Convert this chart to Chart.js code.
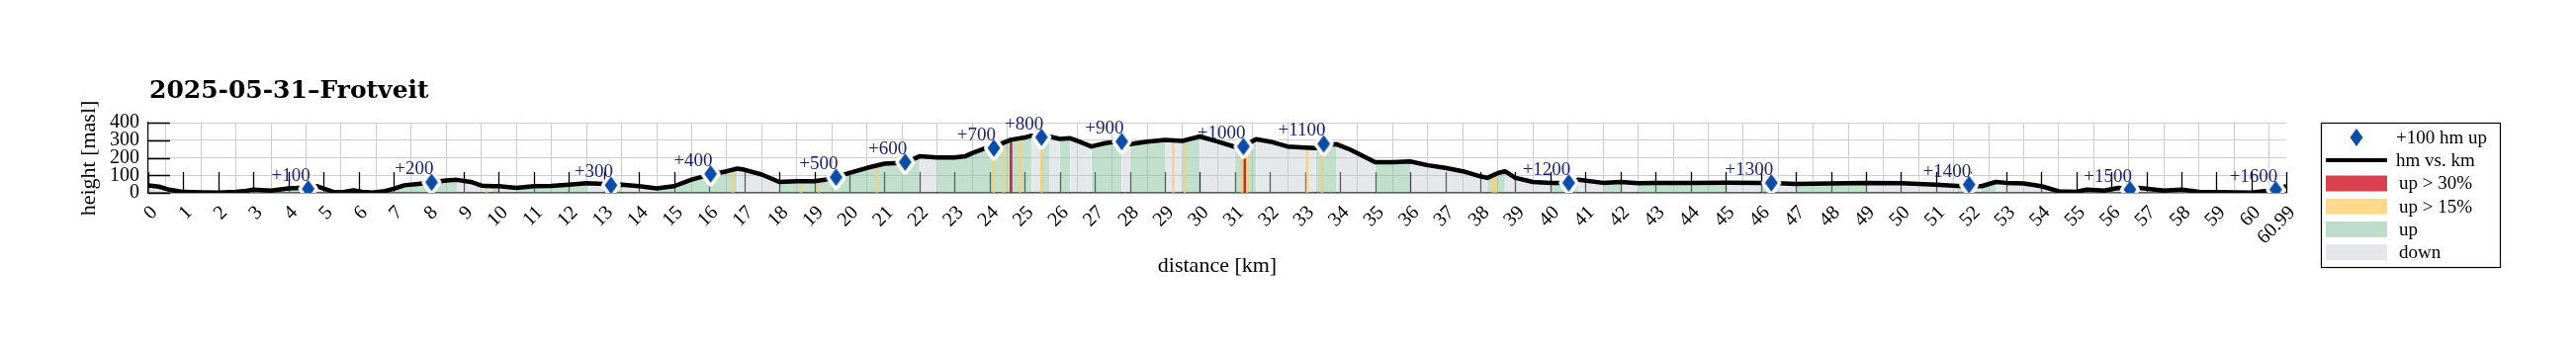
<!DOCTYPE html>
<html>
<head>
<meta charset="utf-8">
<script src="https://cdn.jsdelivr.net/npm/chart.js@4.4.1/dist/chart.umd.min.js"></script>
<style>
  body { margin: 0; background: #fff; }
</style>
</head>
<body>
<canvas id="elevationChart" width="2605" height="360"></canvas>
<script>
// Elevation profile (km, m a.s.l.)
const distanceKm = [0, 0.3, 0.6, 1.0, 1.5, 2.0, 2.5, 2.8, 3.0, 3.5, 4.0, 4.3, 4.56, 4.8, 5.0, 5.3, 5.6, 5.85, 6.1, 6.4,
    6.7, 7.0, 7.3, 7.7, 8.08, 8.5, 8.8, 9.2, 9.5, 9.8, 10.0, 10.5, 11.0, 11.5, 12.0, 12.5, 13.0, 13.2, 13.5, 14.0,
    14.5, 15.0, 15.5, 16.04, 16.5, 16.8, 17.0, 17.5, 18.0, 18.5, 19.0, 19.3, 19.62, 20.0, 20.5, 21.0, 21.59, 22.0, 22.5, 23.0,
    23.3, 23.5, 23.9, 24.12, 24.3, 24.6, 25.0, 25.2, 25.48, 25.7, 26.0, 26.3, 26.5, 26.9, 27.3, 27.77, 28.0, 28.5, 29.0, 29.5,
    30.0, 30.5, 31.0, 31.24, 31.6, 32.0, 32.5, 33.0, 33.3, 33.53, 33.9, 34.3, 35.0, 35.5, 36.0, 36.5, 37.0, 37.5, 38.0, 38.2,
    38.5, 38.7, 39.0, 39.5, 40.0, 40.52, 40.8, 41.5, 42.0, 42.5, 43.0, 44.0, 45.0, 46.0, 46.3, 47.0, 48.0, 49.0, 50.0, 51.0,
    51.6, 51.94, 52.3, 52.7, 53.0, 53.5, 54.0, 54.5, 55.0, 55.3, 55.8, 56.2, 56.53, 56.8, 57.5, 58.0, 58.5, 59.0, 60.0, 60.5,
    60.69, 60.99];
const heightM = [43, 35, 18, 5, 3, 2, 6, 12, 19, 13, 25, 28, 23, 38, 25, 4, 6, 14, 6, 1,
    8, 23, 43, 51, 60, 70, 74, 62, 41, 38, 38, 28, 38, 40, 47, 55, 51, 45, 47, 38,
    25, 38, 75, 105, 123, 138, 132, 104, 62, 66, 66, 75, 89, 113, 142, 166, 172, 208, 202, 202,
    208, 226, 255, 262, 277, 302, 315, 326, 320, 321, 307, 311, 296, 264, 283, 295, 277, 292, 302, 296,
    321, 292, 262, 265, 306, 292, 264, 258, 255, 270, 277, 245, 175, 175, 179, 157, 142, 123, 94, 85,
    113, 123, 85, 62, 57, 57, 75, 57, 62, 55, 57, 57, 58, 57, 57, 51, 53, 57, 55, 47,
    40, 40, 38, 62, 57, 53, 38, 9, 6, 19, 13, 28, 22, 28, 13, 19, 6, 4, 2, 13,
    19, 38];

// +100 hm markers
const milestoneKm = [4.56, 8.08, 13.2, 16.04, 19.62, 21.59, 24.12, 25.48, 27.77, 31.24, 33.53, 40.52, 46.3, 51.94, 56.53, 60.69];
const milestoneHeight = [23, 60, 43, 108, 89, 175, 255, 317, 292, 264, 279, 57, 57, 47, 19, 19];
const milestoneLabels = ["+100", "+200", "+300", "+400", "+500", "+600", "+700", "+800", "+900", "+1000",
    "+1100", "+1200", "+1300", "+1400", "+1500", "+1600"];

// steep climbing spots: km, height, grade class
const steepKm = [9.65, 16.67, 18.62, 19.13, 20.78, 24.12, 24.4, 24.61, 24.87, 25.48, 29.24, 29.57, 31.2, 31.28, 31.35, 33.06, 33.48, 38.36, 38.44];
const steepHeight = [40, 135, 66, 68, 155, 258, 285, 302, 312, 318, 298, 297, 262, 268, 275, 257, 262, 100, 108];
const steepClass = [15, 15, 15, 15, 15, 15, 15, 30, 15, 15, 15, 15, 15, 30, 15, 15, 15, 15, 15];

const xTickValues = Array.from({ length: 61 }, (_, i) => i).concat([60.99]);

const upFill = "rgba(143,196,164,0.55)";
const downFill = "rgba(198,203,211,0.45)";
const steep15 = "rgba(252,206,105,0.75)";
const steep30 = "rgba(196,24,44,0.9)";
const markerBlue = "#0b4ca8";
const labelNavy = "#1c2470";
const serif = '"Liberation Serif", "DejaVu Serif", serif';

const profile = distanceKm.map((d, i) => ({ x: d, y: heightM[i] }));
const milestones = milestoneKm.map((d, i) => ({ x: d, y: milestoneHeight[i] }));
const steep = steepKm.map((d, i) => ({ x: d, y: steepHeight[i] }));

function diamondImage(halo) {
    const c = document.createElement("canvas");
    c.width = 26; c.height = 34;
    const g = c.getContext("2d");
    g.beginPath();
    g.moveTo(13, 8); g.lineTo(19.5, 17); g.lineTo(13, 26); g.lineTo(6.5, 17); g.closePath();
    if (halo) {
        g.lineJoin = "round";
        g.strokeStyle = "#fff";
        g.lineWidth = 7;
        g.stroke();
    }
    g.fillStyle = markerBlue;
    g.fill();
    return c;
}
const diamond = diamondImage(true);
const legendDiamond = diamondImage(false);

// inward ticks like the original plot
const innerTicks = {
    id: "innerTicks",
    beforeDatasetsDraw(chart) {
        const { ctx, chartArea: a, scales: { x, y } } = chart;
        ctx.save();
        ctx.strokeStyle = "#000";
        ctx.lineWidth = 1.3;
        ctx.beginPath();
        x.ticks.forEach(t => {
            const px = Math.round(x.getPixelForValue(t.value)) + 0.5;
            ctx.moveTo(px, a.bottom);
            ctx.lineTo(px, a.bottom - 21);
        });
        y.ticks.forEach(t => {
            const py = Math.round(y.getPixelForValue(t.value)) + 0.5;
            ctx.moveTo(a.left, py);
            ctx.lineTo(a.left + 22, py);
        });
        ctx.stroke();
        ctx.restore();
    }
};

const milestoneText = {
    id: "milestoneText",
    afterDatasetsDraw(chart) {
        const ctx = chart.ctx;
        const meta = chart.getDatasetMeta(3);
        ctx.save();
        ctx.font = "19px " + serif;
        ctx.fillStyle = labelNavy;
        ctx.textAlign = "right";
        ctx.textBaseline = "alphabetic";
        meta.data.forEach((pt, i) => {
            ctx.fillText(milestoneLabels[i], pt.x + 2, pt.y - 8);
        });
        ctx.restore();
    }
};

// rotated km labels, placed like the original
const xLabels = {
    id: "xLabels",
    afterDraw(chart) {
        const { ctx, chartArea: a, scales: { x } } = chart;
        ctx.save();
        ctx.font = "20px " + serif;
        ctx.fillStyle = "#000";
        ctx.textAlign = "right";
        ctx.textBaseline = "middle";
        x.ticks.forEach(t => {
            const px = x.getPixelForValue(t.value);
            ctx.save();
            ctx.translate(px + 6, a.bottom + 17);
            ctx.rotate(-Math.PI / 4);
            ctx.fillText(String(t.value), 0, 0);
            ctx.restore();
        });
        ctx.restore();
    }
};

const titlesAndLegend = {
    id: "titlesAndLegend",
    afterDraw(chart) {
        const { ctx, chartArea: a } = chart;
        ctx.save();
        ctx.fillStyle = "#000";
        ctx.font = 'bold 25px "DejaVu Serif", serif';
        ctx.textAlign = "left";
        ctx.textBaseline = "alphabetic";
        ctx.fillText("2025-05-31\u2013Frotveit", a.left + 1, 99);

        ctx.font = "22px " + serif;
        ctx.textAlign = "center";
        ctx.textBaseline = "middle";
        ctx.fillText("distance [km]", (a.left + a.right) / 2, 269);
        ctx.translate(90, 160);
        ctx.rotate(-Math.PI / 2);
        ctx.fillText("height [masl]", 0, 0);
        ctx.restore();

        // legend box
        ctx.save();
        const lx = 2347, ly = 124, lw = 181, lh = 146;
        ctx.fillStyle = "#fff";
        ctx.fillRect(lx, ly, lw, lh);
        ctx.strokeStyle = "#000";
        ctx.lineWidth = 1.2;
        ctx.strokeRect(lx + 0.5, ly + 0.5, lw, lh);
        ctx.font = "19px " + serif;
        ctx.textAlign = "left";
        ctx.textBaseline = "middle";
        ctx.fillStyle = "#000";
        ctx.drawImage(legendDiamond, 2383 - 13, 139 - 17);
        ctx.fillText("+100 hm up", 2423, 140);
        ctx.strokeStyle = "#000";
        ctx.lineWidth = 4;
        ctx.beginPath(); ctx.moveTo(2352, 162); ctx.lineTo(2414, 162); ctx.stroke();
        ctx.fillText("hm vs. km", 2423, 163);
        const boxes = [["#d9414f", "up > 30%"], ["#fdd98b", "up > 15%"], ["#bddcc9", "up"], ["#e4e6ea", "down"]];
        boxes.forEach((b, i) => {
            const cy = 185.5 + i * 23.2;
            ctx.fillStyle = b[0];
            ctx.fillRect(2352, cy - 8, 62, 16);
            ctx.fillStyle = "#000";
            ctx.fillText(b[1], 2426, cy + 1);
        });
        ctx.restore();
    }
};

const ctx = document.getElementById("elevationChart").getContext("2d");
new Chart(ctx, {
    type: "line",
    data: {
        datasets: [
            {
                label: "fill",
                data: profile,
                borderWidth: 0,
                borderColor: "rgba(0,0,0,0)",
                pointRadius: 0,
                fill: "origin",
                backgroundColor: upFill,
                segment: {
                    backgroundColor: c => (c.p1.parsed.y >= c.p0.parsed.y ? upFill : downFill)
                },
                order: 4
            },
            {
                type: "bar",
                label: "steep",
                data: steep,
                backgroundColor: steepClass.map(s => (s >= 30 ? steep30 : steep15)),
                barThickness: 2,
                grouped: false,
                order: 3
            },
            {
                label: "hm vs. km",
                data: profile,
                borderColor: "#000",
                borderWidth: 4.5,
                borderJoinStyle: "round",
                pointRadius: 0,
                fill: false,
                order: 2
            },
            {
                label: "+100 hm up",
                data: milestones,
                showLine: false,
                pointStyle: diamond,
                pointRadius: 10,
                order: 1
            }
        ]
    },
    options: {
        responsive: false,
        animation: false,
        devicePixelRatio: 1,
        layout: { padding: { left: 0, right: 293, top: 124, bottom: 0 } },
        plugins: {
            legend: { display: false },
            tooltip: { enabled: false }
        },
        scales: {
            x: {
                type: "linear",
                min: 0,
                max: 60.99,
                offset: false,
                afterBuildTicks: s => { s.ticks = xTickValues.map(v => ({ value: v })); },
                afterFit: s => { s.height = 165; },
                ticks: { display: false, autoSkip: false },
                grid: { color: "#cdcdcd", drawTicks: false, lineWidth: 1 },
                border: { color: "#000", width: 1.2 }
            },
            y: {
                min: 0,
                max: 400,
                afterFit: s => { s.width = 150; },
                ticks: {
                    stepSize: 100,
                    autoSkip: false,
                    padding: 9,
                    color: "#000",
                    font: { family: serif, size: 20 }
                },
                grid: { color: "#cdcdcd", drawTicks: false, lineWidth: 1 },
                border: { color: "#000", width: 1.2 }
            }
        }
    },
    plugins: [innerTicks, milestoneText, xLabels, titlesAndLegend]
});
</script>
</body>
</html>
